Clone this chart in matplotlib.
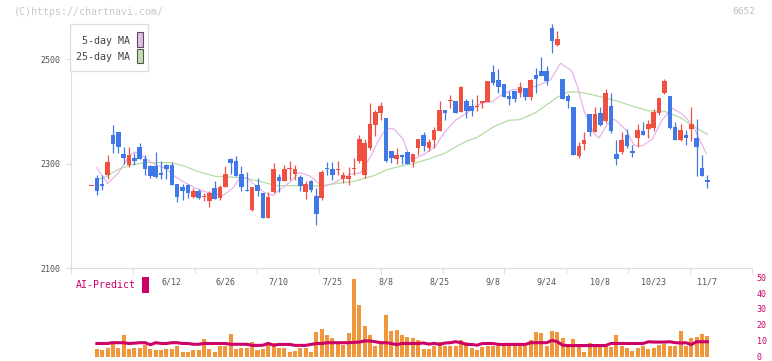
import numpy as np
import matplotlib.pyplot as plt
from matplotlib.patches import Rectangle

# daily candles, 5/22 .. 11/7
opens = [2257, 2273, 2262, 2278, 2354, 2361, 2319, 2298, 2311, 2331,
         2308, 2295, 2296, 2283, 2297, 2298, 2262, 2255, 2260, 2236,
         2248, 2236, 2228, 2253, 2235, 2255, 2308, 2306, 2281, 2250,
         2211, 2259, 2244, 2196, 2245, 2275, 2266, 2289, 2280, 2275,
         2245, 2266, 2239, 2235, 2291, 2290, 2287, 2271, 2271, 2290,
         2306, 2279, 2329, 2373, 2397, 2387, 2324, 2308, 2316, 2322,
         2304, 2329, 2354, 2329, 2346, 2363, 2402, 2420, 2420, 2399,
         2420, 2411, 2409, 2416, 2418, 2476, 2460, 2452, 2429, 2439,
         2436, 2444, 2428, 2469, 2477, 2477, 2559, 2527, 2461, 2429,
         2408, 2315, 2338, 2394, 2361, 2396, 2382, 2410, 2319, 2323,
         2354, 2325, 2349, 2363, 2366, 2368, 2396, 2436, 2429, 2371,
         2346, 2354, 2367, 2349, 2292, 2269]
highs = [2258, 2278, 2278, 2317, 2373, 2361, 2331, 2331, 2320, 2339,
         2317, 2298, 2322, 2306, 2300, 2303, 2262, 2262, 2262, 2253,
         2252, 2244, 2247, 2266, 2259, 2296, 2310, 2315, 2295, 2285,
         2256, 2273, 2244, 2245, 2302, 2280, 2297, 2306, 2298, 2278,
         2267, 2268, 2253, 2287, 2304, 2304, 2306, 2285, 2293, 2310,
         2354, 2347, 2415, 2402, 2418, 2387, 2325, 2330, 2319, 2324,
         2319, 2348, 2361, 2348, 2371, 2419, 2402, 2431, 2420, 2449,
         2423, 2423, 2432, 2419, 2458, 2488, 2481, 2452, 2438, 2439,
         2457, 2444, 2461, 2482, 2504, 2487, 2567, 2553, 2461, 2434,
         2408, 2341, 2361, 2394, 2409, 2408, 2443, 2436, 2345, 2360,
         2366, 2336, 2375, 2379, 2383, 2404, 2425, 2461, 2429, 2379,
         2375, 2365, 2409, 2386, 2317, 2279]
lows = [2257, 2241, 2250, 2271, 2320, 2320, 2299, 2294, 2297, 2308,
        2279, 2272, 2273, 2271, 2271, 2260, 2227, 2231, 2234, 2234,
        2233, 2228, 2218, 2232, 2230, 2255, 2281, 2276, 2247, 2247,
        2209, 2239, 2196, 2196, 2244, 2245, 2266, 2269, 2269, 2247,
        2233, 2245, 2183, 2231, 2278, 2269, 2278, 2263, 2259, 2279,
        2302, 2273, 2327, 2353, 2383, 2303, 2301, 2300, 2300, 2300,
        2293, 2317, 2324, 2324, 2329, 2363, 2383, 2406, 2396, 2399,
        2388, 2392, 2401, 2406, 2418, 2450, 2436, 2428, 2413, 2417,
        2428, 2422, 2422, 2436, 2468, 2450, 2511, 2524, 2424, 2407,
        2317, 2311, 2327, 2352, 2361, 2372, 2378, 2358, 2297, 2318,
        2329, 2312, 2332, 2355, 2350, 2363, 2393, 2434, 2366, 2346,
        2343, 2336, 2344, 2276, 2276, 2254]
closes = [2258, 2247, 2258, 2304, 2337, 2331, 2310, 2317, 2306, 2308,
          2289, 2276, 2274, 2278, 2290, 2260, 2237, 2247, 2243, 2248,
          2234, 2237, 2244, 2232, 2255, 2281, 2302, 2276, 2255, 2247,
          2255, 2248, 2196, 2237, 2290, 2266, 2290, 2291, 2290, 2258,
          2262, 2250, 2204, 2285, 2289, 2279, 2288, 2279, 2276, 2291,
          2348, 2340, 2375, 2399, 2410, 2306, 2310, 2317, 2313, 2300,
          2319, 2348, 2334, 2342, 2365, 2402, 2397, 2421, 2396, 2446,
          2401, 2401, 2410, 2419, 2458, 2455, 2446, 2428, 2424, 2424,
          2446, 2428, 2460, 2462, 2468, 2458, 2535, 2538, 2424, 2420,
          2317, 2333, 2346, 2361, 2394, 2374, 2436, 2363, 2308, 2346,
          2334, 2320, 2365, 2355, 2376, 2399, 2425, 2458, 2369, 2346,
          2365, 2350, 2376, 2331, 2276, 2264]

# moving averages (candle index, price)
ma5_x = [1, 3, 5, 7, 8, 9, 10.3, 12, 14, 15.5, 17.4, 19.3, 21, 23, 24.5,
         26.4, 27.7, 28.9, 30.8, 32.3, 33.9, 35.1, 37, 38.8, 40.7, 42.2,
         43.5, 45, 46.5, 48.3, 50.2, 52.2, 53.5, 55, 56.5, 58.2, 59.5,
         60.5, 62.1, 64.2, 66, 68, 70.5, 73, 74.8, 76.5, 78.5, 81, 83.5,
         85.7, 87.6, 89.7, 90.8, 92, 93.8, 94.8, 96.2, 97.6, 99.8, 101.3,
         102.9, 104.8, 106.6, 108.4, 110.3, 112.2, 113.7, 114.8]
ma5_y = [2292, 2262, 2282, 2314, 2322, 2320, 2308, 2298, 2290, 2276, 2264,
         2254, 2247, 2242, 2239, 2253, 2273, 2273, 2257, 2245, 2239, 2250,
         2264, 2283, 2277, 2264, 2257, 2262, 2270, 2280, 2282, 2315, 2343,
         2368, 2366, 2347, 2310, 2310, 2318, 2333, 2361, 2383, 2400, 2417,
         2418, 2431, 2441, 2442, 2450, 2460, 2492, 2477, 2446, 2400, 2358,
         2349, 2374, 2385, 2365, 2335, 2334, 2348, 2384, 2406, 2395, 2375,
         2343, 2320]
ma25_x = [1, 2.5, 5, 7.5, 10, 15, 17.4, 19.9, 23, 28.3, 31.5, 34.5, 39.5,
          42.6, 46.3, 49, 51, 53, 55, 58, 60, 63, 66, 68, 70, 72, 75, 78,
          80, 83, 87, 89, 91, 93, 95, 98, 101, 104, 107, 110, 112, 115]
ma25_y = [2270, 2274, 2289, 2298, 2302, 2302, 2295, 2285, 2276, 2273, 2266,
          2258, 2258, 2257, 2263, 2266, 2272, 2278, 2288, 2296, 2300, 2309,
          2320, 2332, 2343, 2350, 2370, 2383, 2384, 2398, 2427, 2437, 2437,
          2433, 2428, 2420, 2410, 2401, 2400, 2388, 2374, 2356]

# volume bars and AI-Predict line, from the 2nd candle on
volume = [5.5, 4.8, 6.1, 10.5, 6.1, 14.3, 5.5, 6.1, 6.1, 8.0,
          5.5, 4.4, 4.8, 5.5, 5.5, 7.4, 3.6, 3.6, 4.8, 4.4,
          11.8, 5.5, 3.6, 7.4, 7.4, 14.9, 5.5, 6.1, 6.1, 9.9,
          4.8, 5.5, 9.9, 9.2, 6.1, 6.1, 3.6, 4.2, 6.1, 6.1,
          3.6, 16.2, 18.1, 14.3, 12.4, 9.9, 8.0, 15.5, 49.5, 33.1,
          19.9, 14.3, 7.4, 10.5, 26.9, 16.8, 17.4, 14.3, 13.0, 12.4,
          11.1, 5.5, 5.5, 7.4, 9.9, 7.4, 7.4, 7.4, 11.1, 9.9,
          6.1, 4.8, 6.7, 7.4, 7.4, 7.4, 7.4, 7.4, 7.4, 7.4,
          7.4, 10.7, 16.2, 15.5, 7.4, 16.8, 16.2, 12.4, 7.4, 11.8,
          7.4, 3.6, 9.2, 8.6, 7.4, 7.4, 6.7, 14.3, 7.4, 6.1,
          4.2, 6.1, 7.4, 5.5, 6.1, 8.0, 8.6, 7.4, 7.4, 16.8,
          7.4, 12.4, 13.0, 14.9, 13.6]
ai_predict = [8.7, 8.7, 8.7, 9.2, 9.2, 9.2, 8.7, 8.9, 9.2, 9.2,
              7.9, 9.2, 8.7, 8.7, 9.2, 9.2, 8.7, 8.7, 8.2, 8.2,
              8.7, 8.7, 8.7, 8.7, 8.7, 8.2, 8.2, 8.2, 8.2, 7.5,
              7.5, 7.6, 8.7, 7.6, 8.1, 8.1, 8.1, 7.5, 7.5, 7.5,
              8.1, 8.7, 8.7, 9.2, 9.2, 9.2, 9.2, 9.2, 9.4, 9.6,
              10.3, 10.3, 9.8, 9.2, 9.2, 8.7, 8.0, 8.7, 8.7, 8.7,
              8.7, 9.0, 8.3, 8.8, 8.1, 9.0, 9.2, 9.8, 9.2, 8.1,
              8.1, 7.6, 8.7, 8.7, 8.7, 8.1, 8.1, 8.1, 8.1, 8.1,
              8.1, 9.2, 9.2, 9.2, 9.2, 10.7, 9.8, 7.6, 7.4, 7.4,
              7.4, 7.4, 7.4, 7.4, 7.4, 7.4, 8.7, 8.7, 8.7, 8.7,
              8.7, 8.7, 8.7, 9.8, 9.6, 9.6, 9.6, 9.8, 9.2, 9.0,
              9.2, 8.0, 9.8, 9.8, 9.8]

label_pos = [15, 25, 35, 45, 55, 65, 75, 85, 95, 105, 115]
label_txt = ['6/12', '6/26', '7/10', '7/25', '8/8', '8/25',
             '9/8', '9/24', '10/8', '10/23', '11/7']

UP = '#f05040'
DOWN = '#4078e8'
AXC = '#dddddd'
MAG = '#cc0066'
FONT = 'DejaVu Sans Mono'

W, H = 772, 361
fig = plt.figure(figsize=(W / 100, H / 100), dpi=100)


def px_axes(x0, y0, x1, y1):
    return fig.add_axes([x0 / W, 1 - y1 / H, (x1 - x0) / W, (y1 - y0) / H])


# pixel <-> candle index
left_px, right_px = 70.8, 752.3
first_px, step_px = 91.5, 5.355
xmin = (left_px - first_px) / step_px
xmax = (right_px - first_px) / step_px

# --- price panel ---
ax = px_axes(left_px, 6.7, right_px, 268.3)
ax.set_xlim(xmin, xmax)
ax.set_ylim(2100, 2600)

idx = np.arange(len(opens))
o = np.array(opens)
c = np.array(closes)
cols = [UP if cc >= oo else DOWN for oo, cc in zip(o, c)]

ax.plot(ma25_x, ma25_y, color='#b4dca4', lw=0.9, zorder=1)
ax.plot(ma5_x, ma5_y, color='#e8b4e8', lw=0.9, zorder=1)
ax.vlines(idx, lows, highs, colors=cols, lw=0.9, zorder=2)
body = np.maximum(np.abs(c - o), 1.9)
ax.bar(idx, body, bottom=np.minimum(o, c), width=0.85, color=cols,
       linewidth=0, zorder=3)

for s in ['top', 'right']:
    ax.spines[s].set_visible(False)
for s in ['left', 'bottom']:
    ax.spines[s].set_color(AXC)
ax.spines['left'].set_bounds(2100, 2565)
ax.set_yticks([2100, 2300, 2500])
ax.set_xticks(np.linspace(xmin, xmax, 12))
ax.set_xticklabels([])
ax.tick_params(axis='y', colors=AXC, length=3.6, width=0.8, pad=4,
               labelcolor='#555555', labelsize=6)
ax.tick_params(axis='x', colors=AXC, length=4.3, width=0.8)
for t in ax.get_yticklabels():
    t.set_family(FONT)

for p, s in zip(label_pos, label_txt):
    ax.annotate(s, (p, 2100), xytext=(0, -10), textcoords='offset points',
                ha='center', va='center', fontsize=6, color='#555555',
                family=FONT, annotation_clip=False)

# --- volume panel ---
av = px_axes(left_px, 278.4, right_px, 357.2)
av.patch.set_visible(False)
av.set_xlim(xmin, xmax)
av.set_ylim(0, 50)
vol_x = np.arange(1, len(volume) + 1)
av.bar(vol_x, volume, width=0.75, color='#f0963c', linewidth=0)
av.plot(vol_x, ai_predict, color=MAG, lw=2.2)
for s in av.spines.values():
    s.set_visible(False)
av.set_xticks([])
av.yaxis.tick_right()
av.set_yticks([0, 10, 20, 30, 40, 50])
av.tick_params(axis='y', length=0, pad=3.2, labelcolor=MAG, labelsize=6)
for t in av.get_yticklabels():
    t.set_family(FONT)
    t.set_va('center')

# --- overlay: legend, labels, watermark ---
ov = fig.add_axes([0, 0, 1, 1])
ov.set_xlim(0, W)
ov.set_ylim(H, 0)
ov.axis('off')

ov.add_patch(Rectangle((70, 24), 78.3, 47, facecolor='white',
                       edgecolor=AXC, lw=0.9))
ov.text(129.5, 41.5, '5-day MA', ha='right', va='center', fontsize=7.2,
        color='#444444', family=FONT)
ov.text(129.5, 57, '25-day MA', ha='right', va='center', fontsize=7.2,
        color='#444444', family=FONT)
ov.add_patch(Rectangle((136.7, 31.7), 6, 15, facecolor='#ebb8eb',
                       edgecolor='#555555', lw=0.8))
ov.add_patch(Rectangle((136.7, 48.7), 6, 14.6, facecolor='#bfe0b0',
                       edgecolor='#555555', lw=0.8))

ov.text(14, 12, '(C)https://chartnavi.com/', ha='left', va='center',
        fontsize=7.2, color='#c8c8c8', family=FONT)
ov.text(755, 12, '6652', ha='right', va='center', fontsize=6.8,
        color='#c0c0c0', family=FONT)

ov.text(75.5, 285.5, 'AI-Predict', ha='left', va='center', fontsize=7.1,
        color=MAG, family=FONT)
ov.add_patch(Rectangle((142, 277), 7, 15.7, facecolor=MAG, lw=0))

fig.savefig('out.png', dpi=100)
